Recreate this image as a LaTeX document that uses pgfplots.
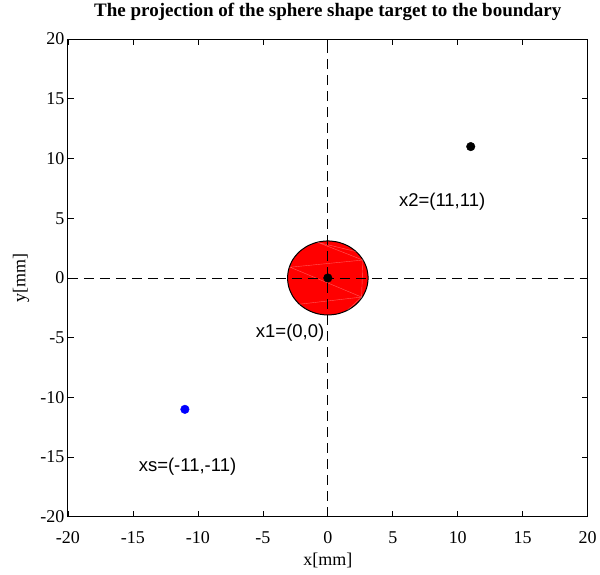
\documentclass[border=0pt]{standalone}
\usepackage{pgfplots}
\pgfplotsset{compat=1.18}
\usepackage{fontspec}
\setmainfont{Liberation Serif}
\newfontfamily\annfont{Liberation Sans}

\begin{document}
\begin{tikzpicture}
\begin{axis}[
  width=520pt, height=478pt, scale only axis,
  xmin=-20, xmax=20, ymin=-20, ymax=20,
  xtick={-20,-15,...,20}, ytick={-20,-15,...,20},
  tick align=inside, major tick length=6pt,
  tick style={black, line width=0.7pt},
  axis line style={line width=1pt},
  /pgf/number format/assume math mode=true,
  ticklabel style={font=\fontsize{18}{21}\selectfont},
  xticklabel style={anchor=center, yshift=-21pt},
  xlabel={x[mm]}, ylabel={y[mm]},
  label style={font=\fontsize{18}{21}\selectfont},
  xlabel style={at={(axis description cs:0.5,0)}, anchor=center, yshift=-44pt},
  ylabel style={at={(axis description cs:0,0.5)}, anchor=center, yshift=47pt},
  title={\textbf{The projection of the sphere shape target to the boundary}},
  title style={font=\fontsize{19}{22}\selectfont, at={(axis description cs:0.5,1)}, anchor=center, yshift=21pt},
  clip=false,
]
% target outline (radius 3.1)
\addplot[fill=red, draw=black, line width=1pt, smooth cycle] coordinates {
  (3.1,0) (2.994,0.802) (2.685,1.55) (2.192,2.192) (1.55,2.685) (0.802,2.994)
  (0,3.1) (-0.802,2.994) (-1.55,2.685) (-2.192,2.192) (-2.685,1.55) (-2.994,0.802)
  (-3.1,0) (-2.994,-0.802) (-2.685,-1.55) (-2.192,-2.192) (-1.55,-2.685) (-0.802,-2.994)
  (0,-3.1) (0.802,-2.994) (1.55,-2.685) (2.192,-2.192) (2.685,-1.55) (2.994,-0.802)
};
% faint mesh edges of the patch
\addplot[white, opacity=0.35, line width=0.4pt] coordinates {
  (-2.2,-2.2) (2.6,-1.6) (-2.9,0.9) (2.7,1.5) (-0.8,2.99) (2.2,2.2)
};
\addplot[white, opacity=0.35, line width=0.4pt] coordinates {
  (2.7,1.5) (2.6,-1.6) (1.5,-2.7)
};
% axis cross
\addplot[black, line width=0.9pt, dash pattern=on 10pt off 6pt] coordinates {(-20,0) (20,0)};
\addplot[black, line width=0.9pt, dash pattern=on 10pt off 6pt] coordinates {(0,-20) (0,20)};
% points
\addplot[only marks, mark=*, mark size=4.3pt, black] coordinates {(0,0) (11,11)};
\addplot[only marks, mark=*, mark size=4.3pt, blue, mark options={fill=blue}] coordinates {(-11,-11)};
% annotations
\node[font=\annfont\fontsize{18.5}{21}\selectfont] at (axis cs:8.8,6.4) {x2=(11,11)};
\node[font=\annfont\fontsize{18.5}{21}\selectfont] at (axis cs:-2.9,-4.6) {x1=(0,0)};
\node[font=\annfont\fontsize{18.5}{21}\selectfont] at (axis cs:-10.8,-15.8) {xs=(-11,-11)};
\end{axis}
% page margins around the axis box
\path (current axis.south west) ++(-68pt,-58pt);
\path (current axis.north east) ++(12pt,35pt);
\end{tikzpicture}
\end{document}
